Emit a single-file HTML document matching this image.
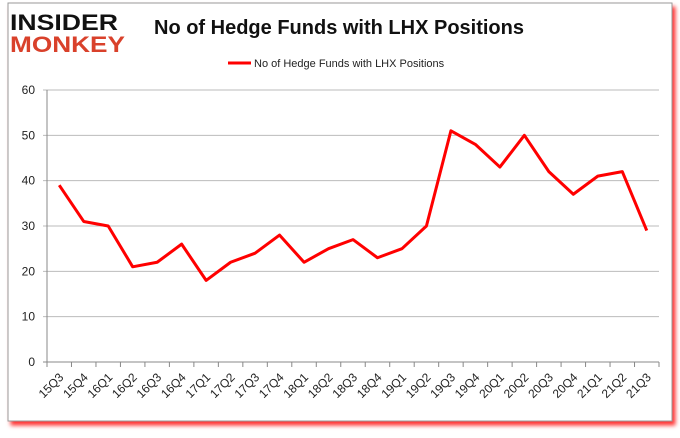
<!DOCTYPE html>
<html><head><meta charset="utf-8"><style>
body{margin:0;background:#fff;width:680px;height:433px;overflow:hidden;font-family:"Liberation Sans",sans-serif}
</style></head><body>
<svg width="680" height="433">
<rect x="8" y="3" width="664" height="418" fill="#fff" stroke="#999" stroke-width="1" style="filter:drop-shadow(3px 4px 2px #f33)"/>
<g font-family="'Liberation Sans',sans-serif" font-weight="bold">
<text x="10" y="30" font-size="22" fill="#111" textLength="108" lengthAdjust="spacingAndGlyphs">INSIDER</text>
<text x="10" y="52" font-size="22" fill="#d9412b" textLength="115" lengthAdjust="spacingAndGlyphs">MONKEY</text>
</g>
<text x="339" y="34" text-anchor="middle" font-size="20" font-weight="bold" fill="#111">No of Hedge Funds with LHX Positions</text>
<line x1="228" y1="63" x2="251" y2="63" stroke="red" stroke-width="3"/>
<text x="254" y="67" font-size="11" fill="#222">No of Hedge Funds with LHX Positions</text>
<g id="grid"></g><g id="axes"></g>
<polyline id="line" fill="none" stroke="red" stroke-width="3" stroke-linejoin="round"/>
</svg>
<script>
const categories=["15Q3","15Q4","16Q1","16Q2","16Q3","16Q4","17Q1","17Q2","17Q3","17Q4","18Q1","18Q2","18Q3","18Q4","19Q1","19Q2","19Q3","19Q4","20Q1","20Q2","20Q3","20Q4","21Q1","21Q2","21Q3"];
const values=[39,31,30,21,22,26,18,22,24,28,22,25,27,23,25,30,51,48,43,50,42,37,41,42,29];
const yTicks=[0,10,20,30,40,50,60];
const NS="http://www.w3.org/2000/svg";
const x0=47,x1=659,yb=362,yt=90,step=(x1-x0)/categories.length;
const X=i=>x0+step*(i+0.5), Y=v=>yb-(v/60)*(yb-yt);
const grid=document.getElementById('grid'),axes=document.getElementById('axes');
function mk(t,a,p){const e=document.createElementNS(NS,t);for(const k in a)e.setAttribute(k,a[k]);p.appendChild(e);return e;}
yTicks.forEach(v=>{
 const l=mk('line',{x1:x0-4,x2:x1,y1:Y(v),y2:Y(v),stroke:v?'#bbb':'#888'},grid);
 
 
 const t=mk('text',{x:x0-12,y:Y(v)+4,'text-anchor':'end','font-size':12,fill:'#222'},axes);
 t.textContent=v;
 
 
});
const ax=mk('line',{x1:x0,x2:x0,y1:yt,y2:yb,stroke:'#888'},axes);


categories.forEach((c,i)=>{
 const tk=mk('line',{x1:x0+step*i,x2:x0+step*i,y1:yb,y2:yb+5,stroke:'#888'},axes);
 
 
 const t=mk('text',{x:X(i)+5,y:yb+16,'text-anchor':'end','font-size':12,fill:'#222',transform:`rotate(-45 ${X(i)+5} ${yb+16})`},axes);
 t.textContent=c;
 
 
});
mk('line',{x1:x1,x2:x1,y1:yb,y2:yb+5,stroke:'#888'},axes);
document.getElementById('line').setAttribute('points',values.map((v,i)=>X(i)+','+Y(v)).join(' '));
</script>
</body></html>
